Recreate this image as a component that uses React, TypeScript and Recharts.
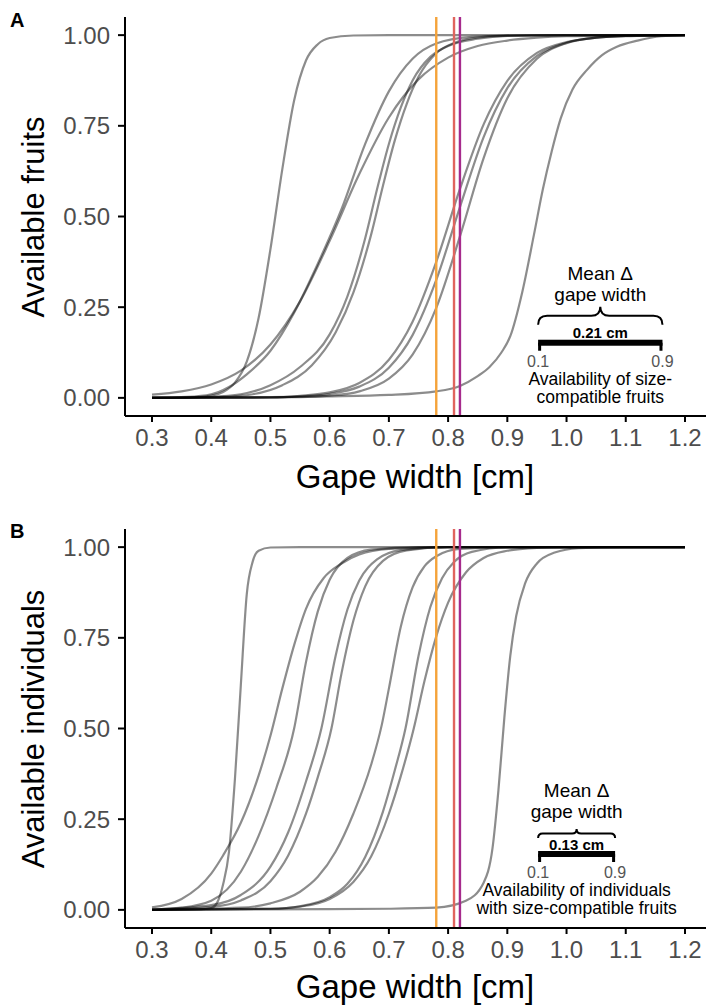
import { LineChart, Line, XAxis, YAxis, ReferenceLine } from 'recharts';

const FONT = '"Liberation Sans", Arial, Helvetica, sans-serif';

// axis ticks
const gapeTicks = [0.3, 0.4, 0.5, 0.6, 0.7, 0.8, 0.9, 1.0, 1.1, 1.2];
const availTicks = [0, 0.25, 0.5, 0.75, 1];

// vertical marker lines (gape width of the three birds)
const markerGape = [0.78, 0.81, 0.82];
const markerColors = ['#F5A33A', '#E0645E', '#A62A8C'];

// panel A: available fruits, one curve per plant species  [gape, share]
const fruit1 = [[0.30, 0], [0.36, 0.001], [0.40, 0.006], [0.42, 0.016], [0.44, 0.042], [0.46, 0.10], [0.48, 0.22], [0.50, 0.41], [0.52, 0.63], [0.54, 0.82], [0.56, 0.93], [0.58, 0.975], [0.60, 0.992], [0.64, 0.999], [0.70, 1], [1.2, 1]];
const fruit2 = [[0.30, 0.009], [0.35, 0.018], [0.40, 0.037], [0.45, 0.075], [0.50, 0.147], [0.55, 0.266], [0.60, 0.433], [0.65, 0.617], [0.70, 0.773], [0.75, 0.878], [0.80, 0.938], [0.85, 0.97], [0.90, 0.985], [0.95, 0.993], [1.0, 0.997], [1.1, 0.999], [1.2, 1]];
const fruit3 = [[0.30, 0.001], [0.36, 0.003], [0.40, 0.01], [0.43, 0.03], [0.46, 0.065], [0.50, 0.13], [0.54, 0.235], [0.58, 0.37], [0.62, 0.52], [0.66, 0.70], [0.70, 0.845], [0.74, 0.935], [0.78, 0.977], [0.84, 0.995], [0.90, 0.999], [1.0, 1], [1.2, 1]];
const fruit4 = [[0.30, 0], [0.40, 0.003], [0.45, 0.01], [0.50, 0.035], [0.55, 0.085], [0.60, 0.175], [0.63, 0.28], [0.66, 0.44], [0.68, 0.575], [0.70, 0.70], [0.72, 0.80], [0.74, 0.875], [0.77, 0.94], [0.80, 0.97], [0.85, 0.99], [0.90, 0.998], [1.0, 1], [1.2, 1]];
const fruit5 = [[0.30, 0], [0.42, 0.003], [0.47, 0.01], [0.52, 0.035], [0.57, 0.09], [0.61, 0.18], [0.64, 0.29], [0.67, 0.45], [0.69, 0.585], [0.71, 0.71], [0.73, 0.81], [0.75, 0.885], [0.78, 0.95], [0.81, 0.978], [0.86, 0.995], [0.92, 0.999], [1.0, 1], [1.2, 1]];
const fruit6 = [[0.30, 0], [0.50, 0.001], [0.55, 0.0055], [0.60, 0.015], [0.65, 0.041], [0.70, 0.105], [0.74, 0.21], [0.78, 0.375], [0.82, 0.576], [0.86, 0.754], [0.90, 0.874], [0.95, 0.951], [1.0, 0.981], [1.05, 0.993], [1.1, 0.998], [1.2, 1]];
const fruit7 = [[0.30, 0], [0.50, 0.001], [0.55, 0.004], [0.60, 0.011], [0.65, 0.031], [0.70, 0.083], [0.74, 0.173], [0.78, 0.325], [0.82, 0.526], [0.86, 0.719], [0.90, 0.854], [0.95, 0.943], [1.0, 0.979], [1.05, 0.993], [1.1, 0.997], [1.2, 1]];
const fruit8 = [[0.30, 0], [0.55, 0.002], [0.60, 0.006], [0.65, 0.018], [0.70, 0.053], [0.74, 0.119], [0.78, 0.248], [0.82, 0.445], [0.86, 0.661], [0.90, 0.826], [0.95, 0.935], [1.0, 0.978], [1.05, 0.993], [1.1, 0.998], [1.2, 1]];
const fruit9 = [[0.30, 0.001], [0.50, 0.002], [0.60, 0.004], [0.70, 0.008], [0.78, 0.018], [0.82, 0.033], [0.85, 0.06], [0.87, 0.085], [0.89, 0.125], [0.905, 0.17], [0.925, 0.29], [0.945, 0.45], [0.96, 0.575], [0.975, 0.68], [0.99, 0.77], [1.01, 0.85], [1.035, 0.905], [1.06, 0.945], [1.085, 0.968], [1.12, 0.985], [1.16, 0.997], [1.2, 1]];

// panel B: available individuals
const indiv1 = [[0.30, 0], [0.38, 0.001], [0.40, 0.005], [0.41, 0.02], [0.42, 0.07], [0.43, 0.16], [0.44, 0.36], [0.45, 0.62], [0.46, 0.87], [0.47, 0.96], [0.48, 0.99], [0.50, 0.999], [0.55, 1], [1.2, 1]];
const indiv2 = [[0.30, 0.007], [0.35, 0.03], [0.40, 0.10], [0.42, 0.15], [0.45, 0.24], [0.48, 0.37], [0.50, 0.48], [0.52, 0.61], [0.54, 0.73], [0.56, 0.83], [0.59, 0.915], [0.62, 0.955], [0.65, 0.98], [0.70, 0.995], [0.80, 1], [1.2, 1]];
const indiv3 = [[0.30, 0.001], [0.35, 0.006], [0.40, 0.025], [0.45, 0.105], [0.48, 0.204], [0.51, 0.336], [0.54, 0.5], [0.56, 0.683], [0.58, 0.823], [0.60, 0.91], [0.63, 0.97], [0.67, 0.993], [0.75, 1], [1.2, 1]];
const indiv4 = [[0.30, 0.001], [0.40, 0.013], [0.45, 0.041], [0.50, 0.119], [0.53, 0.214], [0.56, 0.354], [0.586, 0.5], [0.61, 0.70], [0.63, 0.828], [0.65, 0.908], [0.68, 0.966], [0.72, 0.992], [0.80, 1], [1.2, 1]];
const indiv5 = [[0.30, 0], [0.40, 0.008], [0.45, 0.026], [0.50, 0.079], [0.53, 0.15], [0.56, 0.265], [0.58, 0.366], [0.603, 0.5], [0.62, 0.652], [0.64, 0.797], [0.66, 0.892], [0.69, 0.962], [0.73, 0.991], [0.80, 1], [1.2, 1]];
const indiv6 = [[0.30, 0], [0.45, 0.006], [0.50, 0.018], [0.55, 0.05], [0.58, 0.091], [0.61, 0.16], [0.64, 0.265], [0.67, 0.40], [0.688, 0.51], [0.70, 0.61], [0.72, 0.78], [0.74, 0.889], [0.76, 0.947], [0.78, 0.975], [0.82, 0.995], [0.90, 1], [1.2, 1]];
const indiv7 = [[0.30, 0], [0.50, 0.003], [0.55, 0.01], [0.60, 0.035], [0.63, 0.072], [0.66, 0.146], [0.69, 0.271], [0.71, 0.385], [0.728, 0.5], [0.75, 0.70], [0.77, 0.835], [0.79, 0.915], [0.81, 0.959], [0.84, 0.987], [0.90, 0.999], [1.2, 1]];
const indiv8 = [[0.30, 0], [0.50, 0.003], [0.55, 0.009], [0.60, 0.03], [0.64, 0.077], [0.67, 0.147], [0.70, 0.265], [0.72, 0.368], [0.742, 0.5], [0.76, 0.63], [0.78, 0.754], [0.80, 0.847], [0.83, 0.93], [0.86, 0.97], [0.90, 0.99], [0.95, 0.998], [1.0, 1], [1.2, 1]];
const indiv9 = [[0.30, 0], [0.60, 0.002], [0.70, 0.003], [0.78, 0.006], [0.83, 0.025], [0.86, 0.075], [0.875, 0.17], [0.885, 0.33], [0.895, 0.53], [0.905, 0.70], [0.915, 0.81], [0.93, 0.90], [0.95, 0.955], [0.98, 0.985], [1.02, 0.997], [1.1, 1], [1.2, 1]];

const fruitCurves = [fruit1, fruit2, fruit3, fruit4, fruit5, fruit6, fruit7, fruit8, fruit9];
const indivCurves = [indiv1, indiv2, indiv3, indiv4, indiv5, indiv6, indiv7, indiv8, indiv9];

// mean delta gape width scale bars
const deltaStart = 0.952;
const fruitDelta = 0.21;
const indivDelta = 0.13;
const fruitBarLevel = 0.152;
const indivBarLevel = 0.154;

const toPoints = (c: number[][]) => c.map(([x, y]) => ({ x, y }));

function DeltaScale(props: any) {
  const { x1, x2, y1, label, lines, off } = props;
  const xc = (x1 + x2) / 2;
  const tip = y1 + off.tip;
  const end = y1 + off.end;
  const mid = (tip + end) / 2;
  const q = end - mid;
  const brace = `M${x1},${end} Q${x1},${mid} ${x1 + q},${mid} L${xc - q},${mid} Q${xc},${mid} ${xc},${tip} Q${xc},${mid} ${xc + q},${mid} L${x2 - q},${mid} Q${x2},${mid} ${x2},${end}`;
  return (
    <g fontFamily={FONT}>
      <text x={xc} y={y1 + off.mean} textAnchor="middle" fontSize={19} fill="#000">Mean Δ</text>
      <text x={xc} y={y1 + off.gape} textAnchor="middle" fontSize={19} fill="#000">gape width</text>
      <path d={brace} fill="none" stroke="#000" strokeWidth={2} />
      <text x={xc} y={y1 + off.label} textAnchor="middle" fontSize={15} fontWeight="bold" fill="#000">{label}</text>
      <rect x={x1} y={y1 - 3} width={x2 - x1} height={6} fill="#000" />
      <rect x={x1} y={y1} width={3} height={8} fill="#000" />
      <rect x={x2 - 3} y={y1} width={3} height={8} fill="#000" />
      <text x={x1} y={y1 + 24} textAnchor="middle" fontSize={16} fill="#555">0.1</text>
      <text x={x2} y={y1 + 24} textAnchor="middle" fontSize={16} fill="#555">0.9</text>
      <text x={xc} y={y1 + 42} textAnchor="middle" fontSize={17.5} fill="#000">{lines[0]}</text>
      <text x={xc} y={y1 + 60} textAnchor="middle" fontSize={17.5} fill="#000">{lines[1]}</text>
    </g>
  );
}

function Panel({ top, height, xAxisH, curves, delta, barLevel, lines, off }: any) {
  const label = `${delta.toFixed(2)} cm`;
  return (
    <div style={{ position: 'absolute', left: 0, top, width: 706, height }}>
      <LineChart width={706} height={height} margin={{ top: 17, right: 0, bottom: 0, left: 0 }}>
        <XAxis
          type="number"
          dataKey="x"
          domain={[0.2544, 1.2355]}
          allowDataOverflow
          ticks={gapeTicks}
          interval={0}
          tickFormatter={(v: number) => v.toFixed(1)}
          height={xAxisH}
          axisLine={{ stroke: '#000', strokeWidth: 2 }}
          tickLine={{ stroke: '#000', strokeWidth: 2 }}
          tickSize={6}
          tickMargin={7}
          tick={{ fontSize: 24, fill: '#4D4D4D', fontFamily: FONT }}
        />
        <YAxis
          type="number"
          domain={[-0.05, 1.05]}
          allowDataOverflow
          ticks={availTicks}
          interval={0}
          tickFormatter={(v: number) => v.toFixed(2)}
          width={125}
          axisLine={{ stroke: '#000', strokeWidth: 2 }}
          tickLine={{ stroke: '#000', strokeWidth: 2 }}
          tickSize={7}
          tickMargin={8}
          tick={{ fontSize: 24, fill: '#4D4D4D', fontFamily: FONT }}
        />
        {curves.map((c: number[][], i: number) => (
          <Line
            key={i}
            data={toPoints(c)}
            dataKey="y"
            type="monotone"
            stroke="#000"
            strokeOpacity={0.45}
            strokeWidth={2.2}
            dot={false}
            activeDot={false}
            isAnimationActive={false}
          />
        ))}
        {markerGape.map((g, i) => (
          <ReferenceLine key={g} x={g} stroke={markerColors[i]} strokeWidth={2.4} />
        ))}
        <ReferenceLine
          segment={[{ x: deltaStart, y: barLevel }, { x: deltaStart + delta, y: barLevel }]}
          shape={(p: any) => <DeltaScale {...p} label={label} lines={lines} off={off} />}
        />
      </LineChart>
    </div>
  );
}

const titleStyle: any = {
  position: 'absolute',
  fontFamily: FONT,
  color: '#000',
  whiteSpace: 'nowrap',
};

function YTitle({ cx, cy, text }: { cx: number; cy: number; text: string }) {
  return (
    <div style={{ position: 'absolute', left: cx, top: cy, width: 0, height: 0 }}>
      <span style={{ ...titleStyle, fontSize: 31, lineHeight: '31px', left: 0, top: 0, transform: 'translate(-50%, -50%) rotate(-90deg)' }}>{text}</span>
    </div>
  );
}

function XTitle({ cx, top, text }: { cx: number; top: number; text: string }) {
  return (
    <div style={{ ...titleStyle, fontSize: 33, lineHeight: '33px', left: cx, top, transform: 'translateX(-50%)' }}>{text}</div>
  );
}

const letterStyle: any = {
  position: 'absolute',
  left: 10,
  fontFamily: FONT,
  fontWeight: 'bold',
  fontSize: 20,
  lineHeight: '20px',
};

export default function App() {
  return (
    <div style={{ position: 'absolute', left: 0, top: 0, width: 706, height: 1007, background: '#fff', overflow: 'hidden' }}>
      <Panel
        top={0}
        height={503}
        xAxisH={87}
        curves={fruitCurves}
        delta={fruitDelta}
        barLevel={fruitBarLevel}
        lines={['Availability of size-', 'compatible fruits']}
        off={{ mean: -63, gape: -42, tip: -36, end: -18, label: -5 }}
      />
      <Panel
        top={512}
        height={495}
        xAxisH={79}
        curves={indivCurves}
        delta={indivDelta}
        barLevel={indivBarLevel}
        lines={['Availability of individuals', 'with size-compatible fruits']}
        off={{ mean: -57, gape: -36, tip: -25, end: -16, label: -4 }}
      />
      <div style={{ ...letterStyle, top: 10 }}>A</div>
      <div style={{ ...letterStyle, top: 521 }}>B</div>
      <YTitle cx={33} cy={216.5} text="Available fruits" />
      <YTitle cx={33} cy={728.5} text="Available individuals" />
      <XTitle cx={415} top={460} text="Gape width [cm]" />
      <XTitle cx={415} top={970} text="Gape width [cm]" />
    </div>
  );
}
